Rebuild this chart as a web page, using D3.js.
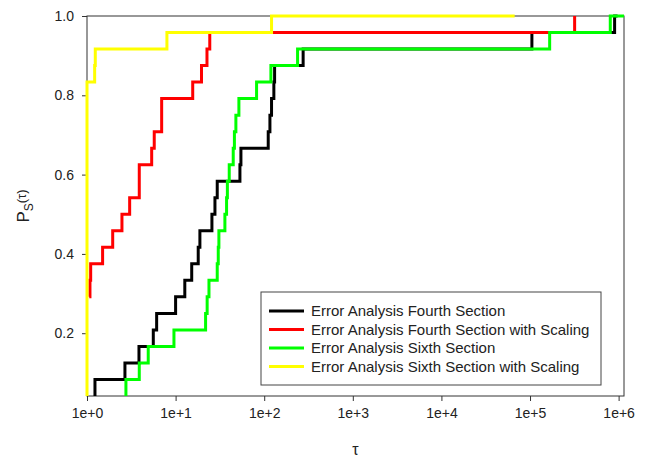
<!DOCTYPE html>
<html>
<head>
<meta charset="utf-8">
<script src="https://cdn.jsdelivr.net/npm/d3@7"></script>
<style>
  body { margin: 0; background: #fff; }
  svg { font-family: "Liberation Sans", Arial, sans-serif; }
  .axis text { font-size: 14px; fill: #222; }
  .axis line, .axis path { stroke: #333; }
</style>
</head>
<body>
<div id="chart"></div>
<script>
// performance profile, 24 problems
var nProblems = 24;

var seriesNames = ["Error Analysis Fourth Section",
                   "Error Analysis Fourth Section with Scaling",
                   "Error Analysis Sixth Section",
                   "Error Analysis Sixth Section with Scaling"];
var seriesColors = ["#000000", "#ff0000", "#00ff00", "#ffff00"];

// tau where each curve steps up to the given count (last entry = end of line)
var fourthTau = [1.23, 1.23, 2.68, 3.86, 5.60, 6.11, 10.0, 12.7, 15.2, 18.0, 18.8, 25.7,
                 27.8, 29.5, 53.2, 54.6, 111, 116, 121, 128.5, 131, 275, 105000, 901000, 973000];
var fourthCount = [1, 2, 3, 4, 5, 6, 7, 8, 9, 10, 11, 12, 13, 14, 15, 16, 17, 18, 19, 20, 21, 22, 23, 24, 24];

var fourthScaledTau = [1.06, 1.08, 1.10, 1.50, 1.95, 2.48, 3.03, 3.89, 3.89, 5.37, 5.74, 6.96,
                       6.96, 15.6, 19.6, 22.6, 24.3, 318800];
var fourthScaledCount = [7, 8, 9, 10, 11, 12, 13, 14, 15, 16, 17, 18, 19, 20, 21, 22, 23, 24];

var sixthTau = [2.75, 2.75, 3.89, 4.91, 9.58, 21.8, 22.7, 23.8, 29.5, 30.3, 30.8, 36.0,
                37.6, 38.4, 40.3, 44.7, 46.1, 47.9, 51.8, 82.0, 119, 238, 166600, 805000, 1150000];
var sixthCount = [1, 2, 3, 4, 5, 6, 7, 8, 9, 10, 11, 12, 13, 14, 15, 16, 17, 18, 19, 20, 21, 22, 23, 24, 24];

var sixthScaledTau = [1, 1, 1.22, 1.24, 7.98, 121, 67100];
var sixthScaledCount = [1, 20, 21, 22, 23, 24, 24];

var xTicks = [1, 10, 100, 1000, 10000, 100000, 1000000];
var xTickLabels = ["1e+0", "1e+1", "1e+2", "1e+3", "1e+4", "1e+5", "1e+6"];
var yTicks = [0.2, 0.4, 0.6, 0.8, 1.0];

var width = 646, height = 459;
var margin = {left: 87, right: 22, top: 16, bottom: 63};

var svg = d3.select("#chart").append("svg")
    .attr("width", width)
    .attr("height", height);

var x = d3.scaleLog()
    .domain([1, 1150000])
    .range([margin.left, width - margin.right]);
var y = d3.scaleLinear()
    .domain([1 / nProblems, 1])
    .range([height - margin.bottom, margin.top]);

function makeSeries(tau, count) {
  var pts = [];
  for (var i = 0; i < tau.length; i++) {
    pts.push({tau: tau[i], p: count[i] / nProblems});
  }
  return pts;
}

var allSeries = [makeSeries(fourthTau, fourthCount),
                 makeSeries(fourthScaledTau, fourthScaledCount),
                 makeSeries(sixthTau, sixthCount),
                 makeSeries(sixthScaledTau, sixthScaledCount)];

// axes
var xAxis = d3.axisBottom(x)
    .tickValues(xTicks)
    .tickFormat(function(d, i) { return xTickLabels[i]; })
    .tickSize(5)
    .tickPadding(7);
var yAxis = d3.axisLeft(y)
    .tickValues(yTicks)
    .tickFormat(d3.format(".1f"))
    .tickSize(5)
    .tickPadding(8);

svg.append("g")
    .attr("class", "axis axis--x")
    .attr("transform", "translate(0," + y.range()[0] + ")")
    .call(xAxis)
    .call(function(g) { g.select(".domain").remove(); });
svg.append("g")
    .attr("class", "axis axis--y")
    .attr("transform", "translate(" + x.range()[0] + ",0)")
    .call(yAxis)
    .call(function(g) { g.select(".domain").remove(); });

// frame
svg.append("rect")
    .attr("x", x.range()[0])
    .attr("y", y.range()[1])
    .attr("width", x.range()[1] - x.range()[0])
    .attr("height", y.range()[0] - y.range()[1])
    .style("fill", "none")
    .style("stroke", "#333")
    .style("stroke-width", 1);

var line = d3.line()
    .x(function(d) { return x(d.tau); })
    .y(function(d) { return y(d.p); })
    .curve(d3.curveStepAfter);

svg.selectAll(".profile")
    .data(allSeries)
    .enter().append("path")
    .attr("class", "profile")
    .attr("d", line)
    .style("fill", "none")
    .style("stroke", function(d, i) { return seriesColors[i]; })
    .style("stroke-width", 3);

// axis titles
svg.append("text")
    .attr("x", (x.range()[0] + x.range()[1]) / 2)
    .attr("y", 455)
    .attr("text-anchor", "middle")
    .style("font-size", "16px")
    .style("fill", "#222")
    .text("τ");

var ylab = svg.append("text")
    .attr("transform", "translate(29," + ((y.range()[0] + y.range()[1]) / 2) + ") rotate(-90)")
    .attr("text-anchor", "middle")
    .style("fill", "#222");
ylab.append("tspan").style("font-size", "17px").text("P");
ylab.append("tspan").style("font-size", "12px").attr("dy", 4).text("S");
ylab.append("tspan").style("font-size", "13px").attr("dy", -7).text("(τ)");

// legend
var legend = svg.append("g").attr("transform", "translate(261,292)");
legend.append("rect")
    .attr("width", 340)
    .attr("height", 93)
    .style("fill", "#fff")
    .style("stroke", "#444")
    .style("stroke-width", 1);

var rows = legend.selectAll(".row")
    .data(seriesNames)
    .enter().append("g")
    .attr("class", "row")
    .attr("transform", function(d, i) { return "translate(0," + (19 + i * 18.5) + ")"; });
rows.append("line")
    .attr("x1", 8).attr("x2", 43)
    .style("stroke", function(d, i) { return seriesColors[i]; })
    .style("stroke-width", 3);
rows.append("text")
    .attr("x", 50)
    .attr("dy", "0.35em")
    .style("font-size", "15px")
    .style("fill", "#222")
    .text(function(d) { return d; });
</script>
</body>
</html>
